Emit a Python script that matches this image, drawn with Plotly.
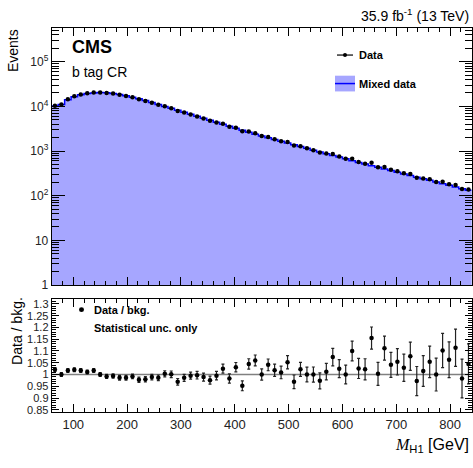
import plotly.graph_objects as go

# binning: 65 bins of 12 GeV from 60 to 840
bin_lo = 60
bin_w = 12
n_bins = 65

# mixed data (background) per bin
mixed = [10200, 11000, 14200, 16500, 18300, 19400, 20100, 20500, 20200, 19500,
         18600, 17400, 16100, 14800, 13500, 12300, 11100, 10000, 9080, 8160,
         7380, 6670, 6000, 5410, 4890, 4400, 3970, 3590, 3240, 2930,
         2640, 2380, 2170, 1980, 1810, 1650, 1520, 1380, 1260, 1150,
         1050, 960, 877, 800, 734, 670, 611, 558, 512, 472,
         433, 397, 366, 336, 308, 284, 261, 239, 221, 202,
         186, 171, 157, 144, 132]

# data / bkg ratio and its statistical uncertainty
ratio = [1.021, 1.000, 1.017, 1.020, 1.017, 1.011, 1.017, 1.000, 0.992, 0.994,
         0.986, 0.986, 0.992, 0.978, 0.980, 0.989, 0.986, 1.003, 1.001, 0.969,
         0.986, 0.995, 0.997, 0.989, 0.976, 0.995, 1.025, 0.983, 1.031, 0.952,
         1.045, 1.060, 1.000, 1.041, 1.018, 1.009, 1.052, 0.969, 1.022, 1.000,
         1.000, 0.973, 1.012, 1.074, 1.025, 1.000, 1.100, 1.026, 1.022, 1.155,
         1.003, 1.112, 1.041, 1.054, 1.029, 1.078, 0.972, 1.015, 1.054, 1.000,
         1.102, 1.063, 1.114, 0.983, 1.045]
ratio_err = [0.008, 0.008, 0.008, 0.008, 0.008, 0.008, 0.008, 0.008, 0.009, 0.009,
             0.010, 0.010, 0.010, 0.011, 0.011, 0.012, 0.012, 0.013, 0.014, 0.014,
             0.015, 0.015, 0.016, 0.017, 0.017, 0.018, 0.019, 0.020, 0.020, 0.021,
             0.022, 0.023, 0.024, 0.025, 0.026, 0.027, 0.028, 0.029, 0.030, 0.031,
             0.032, 0.034, 0.035, 0.037, 0.038, 0.040, 0.042, 0.043, 0.045, 0.047,
             0.049, 0.051, 0.053, 0.056, 0.058, 0.060, 0.062, 0.065, 0.067, 0.070,
             0.073, 0.076, 0.079, 0.082, 0.085]

x_ticks = [100, 200, 300, 400, 500, 600, 700, 800]
y_ticks = [1, 10, 100, 1000, 10000, 100000]
y_ticktext = ["1", "10", "10<sup>2</sup>", "10<sup>3</sup>", "10<sup>4</sup>", "10<sup>5</sup>"]
r_ticks = [0.85, 0.9, 0.95, 1, 1.05, 1.1, 1.15, 1.2, 1.25, 1.3]
r_ticktext = ["0.85", "0.9", "0.95", "1", "1.05", "1.1", "1.15", "1.2", "1.25", "1.3"]

edges = [bin_lo + i * bin_w for i in range(n_bins + 1)]
centers = [bin_lo + (i + 0.5) * bin_w for i in range(n_bins)]
data = [m * r for m, r in zip(mixed, ratio)]
data_err = [m * e for m, e in zip(mixed, ratio_err)]

W, H = 473, 468
FONT = "Liberation Sans, Arial, sans-serif"
FILL = "#a6a6ff"
BLUE = "#0000ff"

def px(x):
    return x / W

def py(y):
    return 1 - y / H

fig = go.Figure()

# top panel
fig.add_trace(go.Bar(x=centers, y=mixed, width=bin_w, marker=dict(color=FILL, line=dict(width=0)),
                     xaxis="x", yaxis="y", showlegend=False))
fig.add_trace(go.Scatter(x=edges, y=mixed + [mixed[-1]], mode="lines", line=dict(shape="hv", color=BLUE, width=1.5),
                         xaxis="x", yaxis="y", showlegend=False))
fig.add_trace(go.Scatter(x=centers, y=data, mode="markers",
                         marker=dict(color="black", size=4.5),
                         error_y=dict(type="data", array=data_err, color="black", thickness=1, width=0),
                         xaxis="x", yaxis="y", showlegend=False))

# ratio panel
fig.add_trace(go.Scatter(x=[bin_lo, bin_lo + n_bins * bin_w], y=[1, 1], mode="lines",
                         line=dict(color="#808080", width=1.5), xaxis="x2", yaxis="y2", showlegend=False))
fig.add_trace(go.Scatter(x=centers, y=ratio, mode="markers",
                         marker=dict(color="black", size=4.5),
                         error_y=dict(type="data", array=ratio_err, color="#222222", thickness=1.2, width=1.5),
                         xaxis="x2", yaxis="y2", showlegend=False))

xdom = [px(51.7), px(471.7)]
common_x = dict(range=[60, 840], tickvals=x_ticks, ticks="inside", ticklen=8, tickwidth=1,
                tickcolor="black", mirror="allticks", showline=True, linecolor="black", linewidth=1,
                showgrid=False, zeroline=False, domain=xdom,
                minor=dict(ticks="inside", dtick=20, ticklen=4, tickcolor="black", showgrid=False))

minor_log = [m * 10 ** k for k in range(0, 6) for m in range(2, 10)]

fig.update_layout(
    width=W, height=H,
    margin=dict(l=0, r=0, t=0, b=0),
    paper_bgcolor="white", plot_bgcolor="white",
    bargap=0,
    font=dict(family=FONT, color="black"),
    xaxis=dict(common_x, anchor="y", showticklabels=False),
    yaxis=dict(type="log", range=[0, 5.76], domain=[py(289), py(27.3)], anchor="x",
               tickvals=y_ticks, ticktext=y_ticktext, ticks="inside", ticklen=13, tickcolor="black",
               mirror="allticks", showline=True, linecolor="black", linewidth=1, showgrid=False,
               tickfont=dict(size=12, color="#222"),
               minor=dict(ticks="inside", tickvals=minor_log, ticklen=7, tickcolor="black", showgrid=False)),
    xaxis2=dict(common_x, anchor="y2", tickfont=dict(size=13, color="#222")),
    yaxis2=dict(range=[0.84, 1.323], domain=[py(418.3), py(302.7)], anchor="x2",
                tickvals=r_ticks, ticktext=r_ticktext, ticks="inside", ticklen=7, tickcolor="black",
                mirror="allticks", showline=True, linecolor="black", linewidth=1, showgrid=False,
                zeroline=False, tickfont=dict(size=11, color="#222"),
                minor=dict(ticks="inside", dtick=0.01, ticklen=4, tickcolor="black", showgrid=False)),
)

ann = [
    dict(x=px(471), y=py(14), text="35.9 fb<sup>-1</sup> (13 TeV)", xanchor="right", yanchor="middle",
         font=dict(size=14)),
    dict(x=px(70), y=py(47), text="<b>CMS</b>", xanchor="left", yanchor="middle", font=dict(size=18)),
    dict(x=px(70), y=py(72), text="b tag CR", xanchor="left", yanchor="middle", font=dict(size=14)),
    dict(x=px(357), y=py(55), text="<b>Data</b>", xanchor="left", yanchor="middle", font=dict(size=11)),
    dict(x=px(357), y=py(84), text="<b>Mixed data</b>", xanchor="left", yanchor="middle", font=dict(size=11)),
    dict(x=px(13), y=py(27), text="Events", textangle=-90, xanchor="center", yanchor="top",
         font=dict(size=14)),
    dict(x=px(17), y=py(299), text="Data / bkg.", textangle=-90, xanchor="center", yanchor="top",
         font=dict(size=14)),
    dict(x=px(92), y=py(314), text="<b>Data / bkg.</b>", xanchor="left", yanchor="middle", font=dict(size=11)),
    dict(x=px(92), y=py(333), text="<b>Statistical unc. only</b>", xanchor="left", yanchor="middle",
         font=dict(size=11)),
    dict(x=px(471), y=py(452),
         text="<span style='font-family:Liberation Serif, serif'><i>M</i></span><sub>H1</sub> [GeV]",
         xanchor="right", yanchor="middle", font=dict(size=16)),
]
for a in ann:
    a.update(xref="paper", yref="paper", showarrow=False)
fig.update_layout(annotations=ann)

# legend symbols
shapes = [
    dict(type="line", x0=px(337), x1=px(353), y0=py(55), y1=py(55), line=dict(color="#333", width=1.5)),
    dict(type="circle", x0=px(343), x1=px(347), y0=py(53), y1=py(57), fillcolor="black", line=dict(width=0)),
    dict(type="rect", x0=px(335), x1=px(355), y0=py(92), y1=py(76), fillcolor=FILL, line=dict(width=0)),
    dict(type="line", x0=px(335), x1=px(355), y0=py(84), y1=py(84), line=dict(color=BLUE, width=1.5)),
    dict(type="circle", x0=px(79), x1=px(84), y0=py(311.5), y1=py(316.5), fillcolor="black", line=dict(width=0)),
]
for s in shapes:
    s.update(xref="paper", yref="paper")
fig.update_layout(shapes=shapes)

fig.write_html("out.html", config={"displayModeBar": False},
               post_script="document.body.style.margin='0';")
